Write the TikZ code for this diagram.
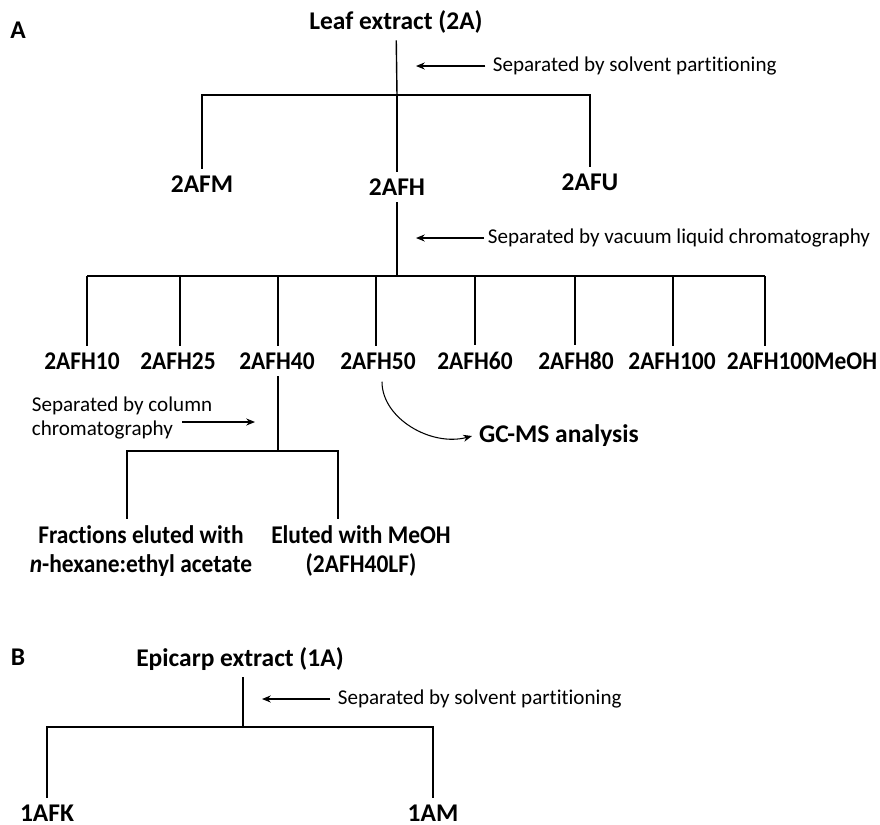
\documentclass[tikz,border=0pt]{standalone}
\usepackage{fontspec}
\setmainfont{Carlito}[Ligatures=NoCommon]
\newfontfamily\narrowfont{Carlito}[Ligatures=NoCommon, FakeStretch=0.92]
\usetikzlibrary{positioning,arrows.meta,calc}

\begin{document}
\begin{tikzpicture}[x=0.02cm, y=-0.02cm,
    sample/.style={font=\bfseries\fontsize{14.5}{15}\selectfont, inner sep=2pt, outer sep=2pt},
    fraction/.style={sample, font=\narrowfont\bfseries\fontsize{14.5}{16.5}\selectfont},
    method/.style={font=\fontsize{12}{14.2}\selectfont, inner sep=2pt},
    tree/.style={line width=0.8pt},
    note arrow/.style={-{Stealth[length=5pt,width=4pt]}, line width=0.6pt}]
  \useasboundingbox (0,0) rectangle (880,825);

  % panel A: leaf extract
  \node[sample] (panA) at (18,30) {A};
  \node[sample] (leaf) at (396,22) {Leaf extract (2A)};
  \coordinate (j1) at (397,95);
  \node[sample] (afm) at (202,184) {2AFM};
  \node[sample] (afh) at (397,187) {2AFH};
  \node[sample] (afu) at (590,182) {2AFU};
  \draw[tree] (leaf) -- (j1);
  \draw[tree] (afm) -- (afm |- j1) -- (afu |- j1) -- (afu);
  \draw[tree] (j1) -- (afh);
  \node[method, anchor=west] (solv) at (489,66) {Separated by solvent partitioning};
  \draw[note arrow, shorten <=2pt, shorten >=0.38cm] (solv) -- (solv -| j1);

  % VLC fractions
  \coordinate (j2) at (397,276);
  \draw[tree] (afh) -- (j2);
  \node[method, anchor=west] (vlc) at (484,238) {Separated by vacuum liquid chromatography};
  \draw[note arrow, shorten >=0.38cm] (vlc) -- (vlc -| afh);
  \foreach \fr/\lx/\tx in {10/87/82, 25/180/178, 40/278/277, 50/376/378, 60/475/475, 80/575/576, 100/673/672, 100MeOH/765/802}{
    \node[fraction] (h\fr) at (\tx,361) {2AFH\fr};
    \coordinate (t\fr) at (\lx,276);
    \draw[tree] (t\fr) -- (t\fr |- h\fr.north);
  }
  \draw[tree] (t10) -- (t100MeOH);

  % column chromatography of 2AFH40
  \coordinate (j3) at (278,451);
  \coordinate (k1) at (127,451);
  \coordinate (k2) at (338,451);
  \draw[tree] (t40 |- h40.south) -- (j3);
  \node[fraction, align=center] (hexfr) at (141,551) {Fractions eluted with\\\textit{n}-hexane:ethyl acetate};
  \node[fraction, align=center] (meoh) at (361,551) {Eluted with MeOH\\(2AFH40LF)};
  \draw[tree] (k1 |- hexfr.north) -- (k1) -- (k2) -- (k2 |- meoh.north);
  \node[method, align=left, anchor=west] (colsep) at (28,418) {Separated by column\\chromatography};
  \coordinate (colarr) at (182,422);
  \draw[note arrow, shorten >=0.46cm] (colarr) -- (colarr -| j3);

  % GC-MS of 2AFH50
  \node[sample, anchor=west] (gcms) at (472,436) {GC-MS analysis};
  \draw[note arrow, shorten <=3pt] ([xshift=0.08cm]h50.south) to[out=-90, in=195] (gcms.west);

  % panel B: epicarp extract
  \node[sample] (panB) at (18,657) {B};
  \node[sample] (epi) at (240,659) {Epicarp extract (1A)};
  \coordinate (j4) at (243,727);
  \draw[tree] (j4 |- epi.south) -- (j4);
  \node[method, anchor=west] (solvB) at (334,699) {Separated by solvent partitioning};
  \draw[note arrow, shorten <=2pt, shorten >=0.38cm] (solvB) -- (solvB -| j4);
  \node[sample] (afk) at (47,813) {1AFK};
  \node[sample] (am) at (433,813) {1AM};
  \draw[tree] (afk) -- (afk |- j4) -- (am |- j4) -- (am);
\end{tikzpicture}
\end{document}
